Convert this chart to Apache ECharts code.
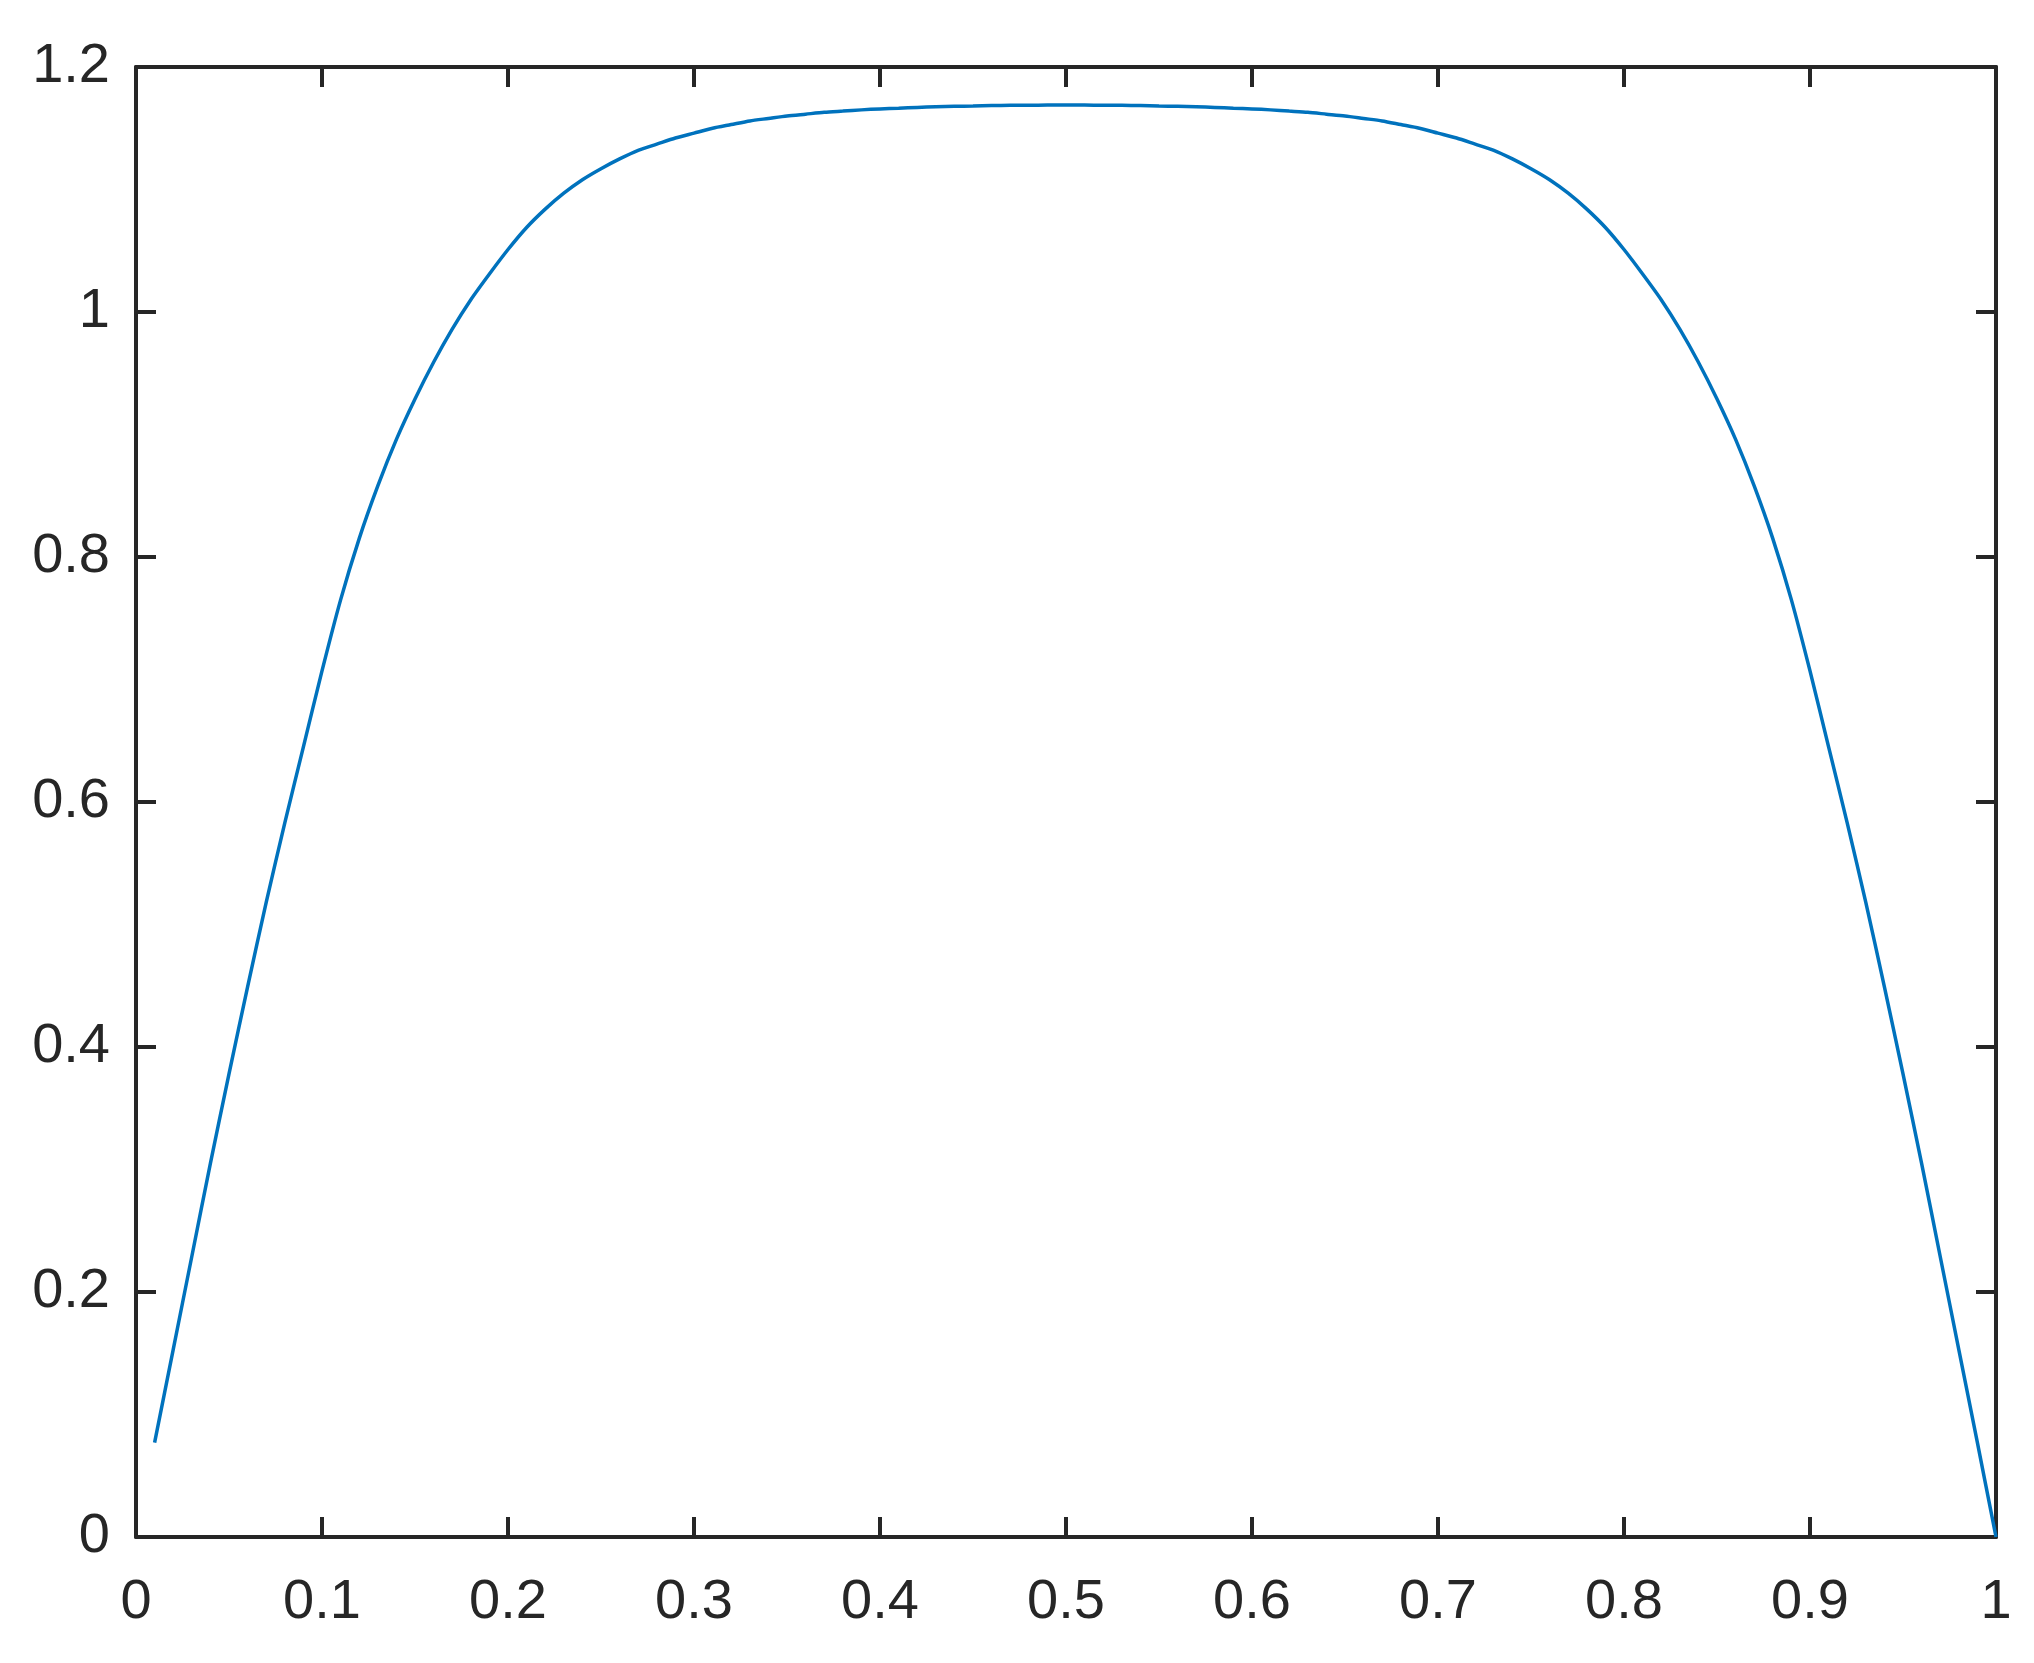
<!DOCTYPE html>
<html>
<head>
<meta charset="utf-8">
<script src="https://cdn.jsdelivr.net/npm/echarts@6/dist/echarts.min.js"></script>
<style>
  html, body { margin: 0; padding: 0; background: #fff; }
  #chart { width: 2034px; height: 1663px; }
</style>
</head>
<body>
<div id="chart"></div>
<script>
// x positions of the sampled curve
const xValues = [
  0.01, 0.02, 0.03, 0.04, 0.05, 0.06, 0.07, 0.08, 0.09, 0.10,
  0.11, 0.12, 0.13, 0.14, 0.15, 0.16, 0.17, 0.18, 0.19, 0.20,
  0.21, 0.22, 0.23, 0.24, 0.25, 0.26, 0.27, 0.28, 0.29, 0.30,
  0.31, 0.32, 0.33, 0.34, 0.35, 0.36, 0.37, 0.38, 0.39, 0.40,
  0.41, 0.42, 0.43, 0.44, 0.45, 0.46, 0.47, 0.48, 0.49, 0.50,
  0.51, 0.52, 0.53, 0.54, 0.55, 0.56, 0.57, 0.58, 0.59, 0.60,
  0.61, 0.62, 0.63, 0.64, 0.65, 0.66, 0.67, 0.68, 0.69, 0.70,
  0.71, 0.72, 0.73, 0.74, 0.75, 0.76, 0.77, 0.78, 0.79, 0.80,
  0.81, 0.82, 0.83, 0.84, 0.85, 0.86, 0.87, 0.88, 0.89, 0.90,
  0.91, 0.92, 0.93, 0.94, 0.95, 0.96, 0.97, 0.98, 0.99, 1.00
];

// curve values
const yValues = [
  0.077, 0.153, 0.229, 0.305, 0.378, 0.449, 0.518, 0.583, 0.645, 0.707,
  0.765, 0.815, 0.858, 0.896, 0.929, 0.959, 0.986, 1.010, 1.031, 1.051,
  1.069, 1.084, 1.097, 1.108, 1.117, 1.125, 1.132, 1.137, 1.142, 1.146,
  1.150, 1.153, 1.156, 1.158, 1.160, 1.1615, 1.163, 1.164, 1.165, 1.1658,
  1.1664, 1.1670, 1.1675, 1.1679, 1.1682, 1.1685, 1.1687, 1.1688, 1.1689, 1.1689,
  1.1689, 1.1688, 1.1687, 1.1685, 1.1682, 1.1679, 1.1675, 1.1670, 1.1664, 1.1658,
  1.165, 1.164, 1.163, 1.1615, 1.160, 1.158, 1.156, 1.153, 1.150, 1.146,
  1.142, 1.137, 1.132, 1.125, 1.117, 1.108, 1.097, 1.084, 1.069, 1.051,
  1.031, 1.010, 0.986, 0.959, 0.929, 0.896, 0.858, 0.815, 0.765, 0.707,
  0.645, 0.583, 0.518, 0.449, 0.378, 0.305, 0.229, 0.153, 0.077, 0
];

const xTicks = [0, 0.1, 0.2, 0.3, 0.4, 0.5, 0.6, 0.7, 0.8, 0.9, 1];
const yTicks = [0, 0.2, 0.4, 0.6, 0.8, 1, 1.2];

drawChart();

function drawChart() {
    let myChart = echarts.init(document.getElementById('chart'));

    const axisColor = '#262626';
    const labelStyle = {
        fontFamily: 'Liberation Sans',
        fontSize: 56,
        color: axisColor
    };
    const boxLine = { show: true, onZero: false, lineStyle: { color: axisColor, width: 4 } };
    const tickStyle = { inside: true, length: 20, lineStyle: { color: axisColor, width: 4 } };

    function fmt(v) {
        return String(+v.toFixed(1));
    }

    let points = xValues.map((x, i) => [x, yValues[i]]);

    let option = {
        animation: false,
        backgroundColor: '#ffffff',
        grid: {
            left: 136,
            right: 38,
            top: 67,
            bottom: 126
        },
        xAxis: [
            {
                type: 'value',
                position: 'bottom',
                min: xTicks[0],
                max: xTicks[xTicks.length - 1],
                interval: 0.1,
                axisLine: boxLine,
                axisTick: tickStyle,
                axisLabel: Object.assign({ margin: 38, formatter: fmt }, labelStyle),
                splitLine: { show: false }
            },
            {
                type: 'value',
                position: 'top',
                min: xTicks[0],
                max: xTicks[xTicks.length - 1],
                interval: 0.1,
                axisLine: boxLine,
                axisTick: tickStyle,
                axisLabel: { show: false },
                splitLine: { show: false }
            }
        ],
        yAxis: [
            {
                type: 'value',
                position: 'left',
                min: yTicks[0],
                max: yTicks[yTicks.length - 1],
                interval: 0.2,
                axisLine: boxLine,
                axisTick: tickStyle,
                axisLabel: Object.assign({ margin: 26, formatter: fmt }, labelStyle),
                splitLine: { show: false }
            },
            {
                type: 'value',
                position: 'right',
                min: yTicks[0],
                max: yTicks[yTicks.length - 1],
                interval: 0.2,
                axisLine: boxLine,
                axisTick: tickStyle,
                axisLabel: { show: false },
                splitLine: { show: false }
            }
        ],
        series: [
            {
                type: 'line',
                xAxisIndex: 0,
                yAxisIndex: 0,
                data: points,
                symbol: 'none',
                smooth: 0.25,
                clip: false,
                lineStyle: { color: '#0072BD', width: 3.5 },
                z: 1
            }
        ]
    };

    myChart.setOption(option);
}
</script>
</body>
</html>
